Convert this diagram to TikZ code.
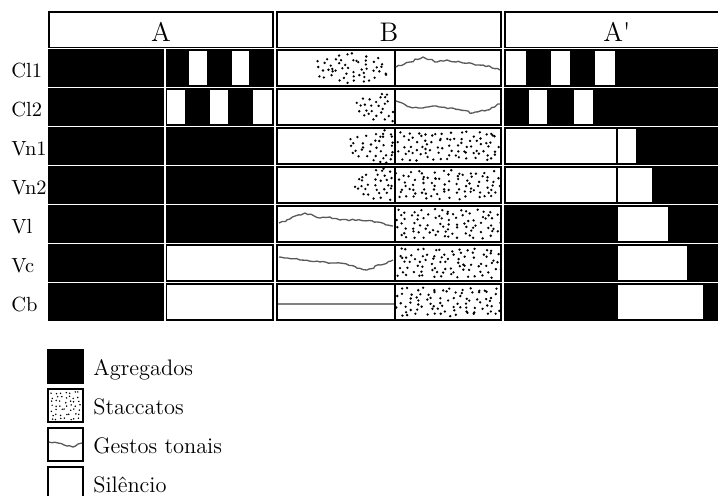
\documentclass[tikz,border=0pt]{standalone}
\usepackage{tikz}
\usetikzlibrary{decorations.pathmorphing}

\begin{document}
\begin{tikzpicture}[x=0.535pt, y=-0.535pt,
  box/.style={draw=black, line width=0.8pt},
  wave/.style={draw=black!65, line width=0.7pt, line join=round, decorate,
    decoration={random steps, segment length=1.6pt, amplitude=0.5pt}},
  rowlabel/.style={anchor=base west, inner sep=0pt, font=\fontsize{10.95}{13}\selectfont},
  keylabel/.style={anchor=base west, inner sep=0pt, font=\large}]
\useasboundingbox (0,0) rectangle (718,496);
\pgfmathsetseed{11}

% Header
\foreach \x/\name/\txt in {49/hA/A, 277/hB/B, 505/hC/A\textquotesingle} {
  \draw[box, fill=white] (\x,12) rectangle ++(224,35.5);
  \node[font=\Large, anchor=base, inner sep=0pt] (\name) at ({\x+112},41.5) {\txt};
}

% Rows: label, colour of the second A cell, white cells drawn on top
\foreach \lab/\ar/\wins [count=\i from 0] in {
  Cl1/black/{188/208,231/250,505/527,550/571,594/616},
  Cl2/black/{166.5/186,209/229,252/273,528/548,573/594},
  Vn1/black/{505/617,617/637},
  Vn2/black/{505/617,617/653},
  Vl/black/{617/669},
  Vc/white/{617/688},
  Cb/white/{617/704}}
{
  \pgfmathsetmacro\rowy{50+39*\i}
  \node[rowlabel] (r\i) at (11,\rowy+27) {\lab};
  \draw[box, fill=black] (49,\rowy) rectangle (163.5,\rowy+36);
  \draw[box, fill=\ar] (166.5,\rowy) rectangle (273,\rowy+36);
  \draw[box, fill=white] (277,\rowy) rectangle (395,\rowy+36);
  \draw[box, fill=white] (395,\rowy) rectangle (501,\rowy+36);
  \draw[box, fill=black] (505,\rowy) rectangle (730,\rowy+36);
  \foreach \xa/\xb in \wins
    \draw[box, fill=white] (\xa,\rowy) rectangle (\xb,\rowy+36);
}

% Staccatos, full cells
\foreach \i in {2,...,6}
  \foreach \u in {0,...,11}
    \foreach \v in {0,...,6}
      \fill ({399+8.6*\u+4.3*mod(\v,2)+rand*3.5},{55+39*\i+4.3*\v+rand*2})
        circle (0.7pt);

% Staccatos, clouds
\foreach \cx/\cy/\hx/\hy in {351/68/40/15, 394/107/42/15,
    394/146/48/17, 394/185/42/17}
  \foreach \u in {-6,...,6}
    \foreach \v in {-4,...,4} {
      \pgfmathsetmacro\px{\cx+8.3*\u+4.2*mod(\v+4,2)+rand*3.5}
      \pgfmathsetmacro\py{\cy+4.3*\v+rand*2}
      \pgfmathsetmacro\inside{((((\px-\cx)/\hx)^2+((\py-\cy)/\hy)^2)<1) && (\px<393)}
      \ifdim\inside pt>0.5pt \fill (\px,\py) circle (0.7pt); \fi
    }

% Gestos tonais
\draw[wave] (396,67) -- (410,62) -- (423,57) -- (437,62) -- (447,60)
  -- (463,63) -- (483,65) -- (500,70);
\draw[wave] (396,101) -- (410,107) -- (423,108) -- (433,106) -- (450,108)
  -- (473,113) -- (487,110) -- (500,104);
\draw[wave] (279,223) -- (290,219) -- (305,213) -- (320,218) -- (330,217)
  -- (340,220) -- (360,220) -- (377,222) -- (393,226);
\draw[wave] (279,257) -- (300,260) -- (320,262) -- (340,263) -- (367,270)
  -- (380,265) -- (393,260);
\draw[black!50, line width=0.9pt] (278,304) -- (394,304);

% Legend
\foreach \k/\fillc/\txt in {0/black/Agregados, 1/white/Staccatos,
    2/white/Gestos tonais, 3/white/Silêncio} {
  \draw[box, fill=\fillc] (48,{350+39*\k}) rectangle ++(35,33);
  \node[keylabel] (key\k) at (93,{375+39*\k}) {\txt};
}
\foreach \u in {0,...,6}
  \foreach \v in {0,...,6}
    \fill ({52+4.5*\u+rand*1.5},{393+4.3*\v+rand*1.2}) circle (0.45pt);
\draw[wave] (49,442) -- (58,443) -- (67,446) -- (73,447) -- (78,444) -- (82,443);
\end{tikzpicture}
\end{document}
